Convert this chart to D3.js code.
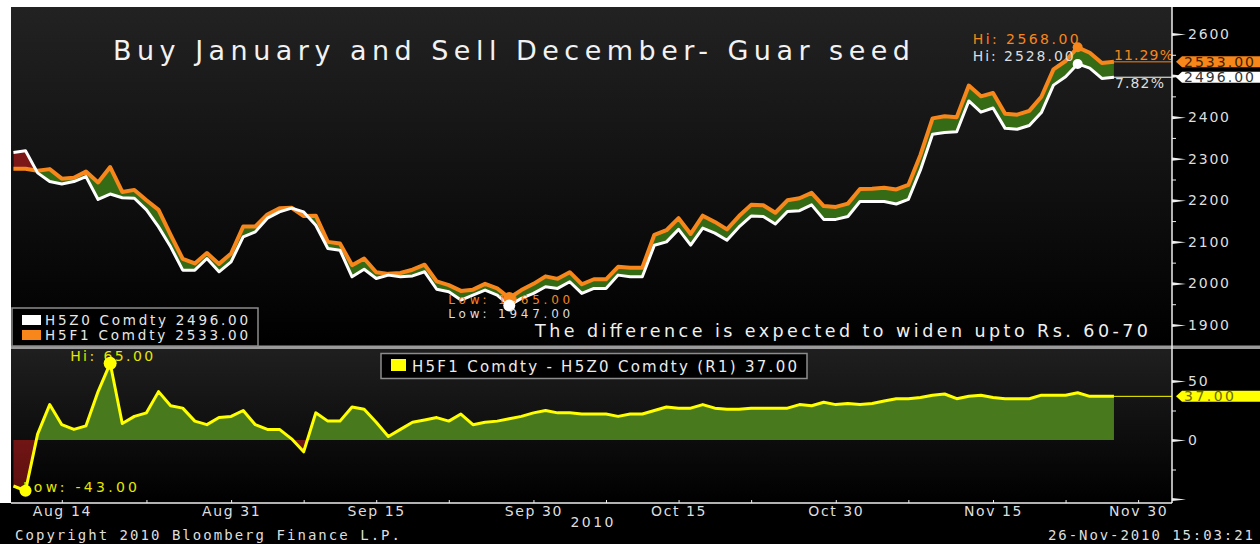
<!DOCTYPE html>
<html>
<head>
<meta charset="utf-8">
<script src="https://cdn.jsdelivr.net/npm/d3@7"></script>
<style>
    html, body { margin: 0; padding: 0; background: #000; }
    svg { display: block; }
    text { font-family: "DejaVu Sans", Verdana, sans-serif; }
</style>
</head>
<body>
<svg id="chart" width="1260" height="544"></svg>
<script>
// one close per trading day, 10 Aug 2010 -> 26 Nov 2010
const h5z0 = [
    2315, 2319, 2266, 2245, 2239, 2245, 2257, 2202, 2215, 2206,
    2205, 2177, 2136, 2088, 2032, 2032, 2060, 2028, 2052, 2112,
    2124, 2157, 2172, 2181, 2172, 2140, 2084, 2080, 2016, 2034,
    2012, 2020, 2016, 2018, 2028, 1986, 1980, 1960, 1972, 1984,
    1972, 1947, 1964, 1976, 1992, 1988, 2004, 1976, 1988, 1988,
    2020, 2016, 2016, 2092, 2100, 2130, 2092, 2133, 2121, 2104,
    2136, 2162, 2161, 2143, 2173, 2175, 2189, 2154, 2154, 2161,
    2197, 2197, 2197, 2191, 2202, 2273, 2359, 2363, 2365, 2439,
    2412, 2422, 2373, 2371, 2380, 2411, 2477, 2497, 2528, 2518,
    2493, 2496
];
const h5f1 = [
    2276, 2276, 2271, 2275, 2252, 2254, 2269, 2243, 2280, 2220,
    2225, 2200, 2177, 2117, 2059, 2048, 2073, 2047, 2072, 2137,
    2137, 2166, 2181, 2182, 2162, 2163, 2100, 2096, 2044, 2060,
    2027, 2023, 2025, 2033, 2045, 2005, 1996, 1982, 1985, 1999,
    1988, 1965, 1984, 1999, 2017, 2011, 2027, 1998, 2010, 2010,
    2040, 2038, 2038, 2117, 2128, 2157, 2119, 2163, 2148, 2130,
    2162, 2189, 2188, 2170, 2200, 2205, 2218, 2186, 2184, 2192,
    2227, 2228, 2230, 2226, 2237, 2309, 2397, 2402, 2400, 2476,
    2450, 2458, 2408, 2406, 2415, 2449, 2515, 2535, 2568, 2555,
    2530, 2533
];
// H5F1 - H5Z0 as plotted in the lower panel
const spread = [
    -39, -43, 5, 30, 13, 9, 12, 41, 65, 14,
    20, 23, 41, 29, 27, 16, 13, 19, 20, 25,
    13, 9, 9, 1, -10, 23, 16, 16, 28, 26,
    15, 3, 9, 15, 17, 19, 16, 22, 13, 15,
    16, 18, 20, 23, 25, 23, 23, 22, 22, 22,
    20, 22, 22, 25, 28, 27, 27, 30, 27, 26,
    26, 27, 27, 27, 27, 30, 29, 32, 30, 31,
    30, 31, 33, 35, 35, 36, 38, 39, 35, 37,
    38, 36, 35, 35, 35, 38, 38, 38, 40, 37,
    37, 37
];

const holidays = ["2010-09-11", "2010-10-02"];
const tickDates = ["2010-08-14", "2010-08-31", "2010-09-15", "2010-09-30", "2010-10-15", "2010-10-30", "2010-11-15", "2010-11-30"];
const tickLabels = ["Aug 14", "Aug 31", "Sep 15", "Sep 30", "Oct 15", "Oct 30", "Nov 15", "Nov 30"];
const priceTicks = [1900, 2000, 2100, 2200, 2300, 2400, 2500, 2600];
const priceMinor = [1950, 2050, 2150, 2250, 2350, 2450, 2550];
const spreadTicks = [-50, 0, 50];
const spreadMinor = [-25, 25];

const ORANGE = "#f7861b";
const GREEN_TOP = "#356b14";
const GREEN_BOT = "#487a1d";
const RED = "#7d1818";
const YELLOW = "#ffff00";
const LABEL = "#dedede";

// trading calendar: Mon-Sat while the data runs, weekdays after it
const fmtDay = d3.timeFormat("%Y-%m-%d");
const parseDay = d3.timeParse("%Y-%m-%d");
const lastDay = parseDay("2010-11-26");
const calendar = d3.timeDay.range(parseDay("2010-08-10"), parseDay("2010-12-04"))
    .filter(d => d.getDay() !== 0 && !holidays.includes(fmtDay(d)) && (d <= lastDay || d.getDay() !== 6));
const dayIndex = s => calendar.findIndex(d => fmtDay(d) === s);

const data = h5z0.map((v, i) => ({ i, date: calendar[i], z: v, f: h5f1[i], s: spread[i] }));
const last = data[data.length - 1];

const plotLeft = 11, plotRight = 1172;
const topP = { y0: 7, y1: 346 };
const botP = { y0: 349, y1: 503 };

const x = d3.scaleLinear().domain([-0.2, 95.8]).range([plotLeft, plotRight]);
const yTop = d3.scaleLinear().domain([1900, 2600]).range([325, 34]);
const yBot = d3.scaleLinear().domain([-50, 50]).range([499, 381]);

const svg = d3.select("#chart");
const defs = svg.append("defs");
// plain hyphen for negatives, like the terminal prints them
const fmt2 = d3.formatLocale({ decimal: ".", thousands: ",", grouping: [3], currency: ["", ""], minus: "-" }).format(".2f");

function vGrad(id, stops) {
    const g = defs.append("linearGradient").attr("id", id)
        .attr("x1", 0).attr("y1", 0).attr("x2", 0).attr("y2", 1);
    stops.forEach(([o, c]) => g.append("stop").attr("offset", o).attr("stop-color", c));
}
vGrad("bgTop", [[0, "#222"], [1, "#000"]]);
vGrad("bgBot", [[0, "#1f1f1f"], [1, "#000"]]);
vGrad("redBot", [[0, "#8e1c1c"], [1, "#5e1010"]]);

function label(g, txt, px, py, opts = {}) {
    const t = g.append("text")
        .attr("x", px).attr("y", py)
        .attr("fill", opts.fill || LABEL)
        .attr("font-size", opts.size || 14)
        .text(txt);
    if (opts.width) t.attr("textLength", opts.width).attr("lengthAdjust", "spacing");
    if (opts.anchor) t.attr("text-anchor", opts.anchor);
    if (opts.family) t.style("font-family", opts.family);
    return t;
}

// frame
svg.append("rect").attr("width", 1260).attr("height", 544).attr("fill", "#000");
svg.append("rect").attr("width", 1260).attr("height", topP.y0).attr("fill", "#fff");
svg.append("rect").attr("width", plotLeft).attr("height", botP.y1).attr("fill", "#fff");
svg.append("rect").attr("x", plotLeft).attr("y", topP.y0)
    .attr("width", plotRight - plotLeft).attr("height", topP.y1 - topP.y0).attr("fill", "url(#bgTop)");
svg.append("rect").attr("x", plotLeft).attr("y", botP.y0)
    .attr("width", plotRight - plotLeft).attr("height", botP.y1 - botP.y0).attr("fill", "url(#bgBot)");
svg.append("rect").attr("x", plotLeft).attr("y", topP.y1 - 0.5)
    .attr("width", 1260 - plotLeft).attr("height", 3.5).attr("fill", "#9a9a9a");

// ---------- upper panel: the two contracts ----------
const upper = svg.append("g");

defs.append("clipPath").attr("id", "belowF").append("path")
    .attr("d", d3.area().x(d => x(d.i)).y0(topP.y1).y1(d => yTop(d.f))(data));
defs.append("clipPath").attr("id", "aboveF").append("path")
    .attr("d", d3.area().x(d => x(d.i)).y0(topP.y0).y1(d => yTop(d.f))(data));

const band = d3.area().x(d => x(d.i)).y0(d => yTop(d.z)).y1(d => yTop(d.f));
upper.append("path").datum(data).attr("d", band).attr("fill", GREEN_TOP).attr("clip-path", "url(#belowF)");
upper.append("path").datum(data).attr("d", band).attr("fill", RED).attr("clip-path", "url(#aboveF)");

const lineF = d3.line().x(d => x(d.i)).y(d => yTop(d.f));
const lineZ = d3.line().x(d => x(d.i)).y(d => yTop(d.z));

// last-price guides to the axis
upper.append("line").attr("x1", x(last.i)).attr("x2", plotRight)
    .attr("y1", yTop(last.f)).attr("y2", yTop(last.f)).attr("stroke", ORANGE).attr("stroke-width", 1);
upper.append("line").attr("x1", x(last.i)).attr("x2", plotRight)
    .attr("y1", yTop(last.z)).attr("y2", yTop(last.z)).attr("stroke", "#fff").attr("stroke-width", 1);

upper.append("path").datum(data).attr("d", lineF)
    .attr("fill", "none").attr("stroke", ORANGE).attr("stroke-width", 4).attr("stroke-linejoin", "round");
upper.append("path").datum(data).attr("d", lineZ)
    .attr("fill", "none").attr("stroke", "#fff").attr("stroke-width", 3).attr("stroke-linejoin", "round");

label(upper, "Buy January and Sell December- Guar seed", 113, 60, { size: 27, fill: "#f2f2f2", width: 797 });
label(upper, "The difference is expected to widen upto Rs. 60-70", 535, 337, { size: 17.5, fill: "#f0f0f0", width: 613 });

// hi / low markers
const hiF = data[d3.maxIndex(data, d => d.f)], hiZ = data[d3.maxIndex(data, d => d.z)];
const loF = data[d3.minIndex(data, d => d.f)], loZ = data[d3.minIndex(data, d => d.z)];

label(upper, `Hi: ${fmt2(hiF.f)}`, x(hiF.i) - 105, yTop(hiF.f) - 3, { fill: ORANGE, width: 106 });
label(upper, `Hi: ${fmt2(hiZ.z)}`, x(hiZ.i) - 105, yTop(hiZ.z) - 3, { fill: LABEL, width: 101 });
upper.append("circle").attr("cx", x(hiF.i)).attr("cy", yTop(hiF.f)).attr("r", 5).attr("fill", ORANGE);
upper.append("circle").attr("cx", x(hiZ.i)).attr("cy", yTop(hiZ.z)).attr("r", 5).attr("fill", "#fff");

label(upper, `Low: ${fmt2(loF.f)}`, x(loF.i) - 61, yTop(loF.f) + 6, { size: 12, fill: ORANGE, width: 122 });
upper.append("circle").attr("cx", x(loF.i)).attr("cy", yTop(loF.f)).attr("r", 6).attr("fill", ORANGE);
upper.append("circle").attr("cx", x(loZ.i)).attr("cy", yTop(loZ.z)).attr("r", 6).attr("fill", "#fff");
label(upper, `Low: ${fmt2(loZ.z)}`, x(loZ.i) - 61, yTop(loZ.z) + 12.6, { size: 12, fill: LABEL, width: 122 });

// change since first close
const pct = (a, b) => fmt2((b / a - 1) * 100) + "%";
label(upper, pct(data[0].f, last.f), x(last.i), yTop(last.f) - 2, { fill: ORANGE, width: 59 });
label(upper, pct(data[0].z, last.z), x(last.i) + 1, yTop(last.z) + 11, { fill: LABEL, width: 49 });

// legend
const leg = upper.append("g");
leg.append("rect").attr("x", 12).attr("y", 308).attr("width", 246).attr("height", 38)
    .attr("fill", "#000").attr("stroke", "#8c8c8c").attr("stroke-width", 1.5);
[["H5Z0 Comdty", last.z, "#fff"], ["H5F1 Comdty", last.f, ORANGE]].forEach(([name, v, c], k) => {
    leg.append("rect").attr("x", 22).attr("y", 315 + k * 15).attr("width", 19).attr("height", 10).attr("fill", c);
    label(leg, `${name} ${fmt2(v)}`, 45, 325 + k * 14.5, { size: 13.5, fill: "#e6e6e6", width: 203 });
});

// ---------- lower panel: the spread ----------
const lower = svg.append("g");

defs.append("clipPath").attr("id", "posClip").append("rect")
    .attr("x", plotLeft).attr("y", botP.y0).attr("width", plotRight - plotLeft).attr("height", yBot(0) - botP.y0);
defs.append("clipPath").attr("id", "negClip").append("rect")
    .attr("x", plotLeft).attr("y", yBot(0)).attr("width", plotRight - plotLeft).attr("height", botP.y1 - yBot(0));

const spreadArea = d3.area().x(d => x(d.i)).y0(yBot(0)).y1(d => yBot(d.s));
lower.append("path").datum(data).attr("d", spreadArea).attr("fill", GREEN_BOT).attr("clip-path", "url(#posClip)");
lower.append("path").datum(data).attr("d", spreadArea).attr("fill", "url(#redBot)").attr("clip-path", "url(#negClip)");

lower.append("line").attr("x1", x(last.i)).attr("x2", plotRight)
    .attr("y1", yBot(last.s)).attr("y2", yBot(last.s)).attr("stroke", YELLOW).attr("stroke-width", 1);
lower.append("path").datum(data)
    .attr("d", d3.line().x(d => x(d.i)).y(d => yBot(d.s)))
    .attr("fill", "none").attr("stroke", YELLOW).attr("stroke-width", 3).attr("stroke-linejoin", "round");

const hiS = data[d3.maxIndex(data, d => d.s)], loS = data[d3.minIndex(data, d => d.s)];
label(lower, `Hi: ${fmt2(hiS.s)}`, x(hiS.i) - 40, yBot(hiS.s) - 2, { fill: "#e6e600", width: 83 });
lower.append("circle").attr("cx", x(hiS.i)).attr("cy", yBot(hiS.s)).attr("r", 6.5).attr("fill", YELLOW);
label(lower, `Low: ${fmt2(loS.s)}`, x(loS.i) - 2.5, yBot(loS.s) + 1, { fill: "#e6e600", width: 114 });
lower.append("circle").attr("cx", x(loS.i)).attr("cy", yBot(loS.s)).attr("r", 6).attr("fill", YELLOW);

const leg2 = lower.append("g");
leg2.append("rect").attr("x", 381).attr("y", 353.5).attr("width", 426).attr("height", 25)
    .attr("fill", "#000").attr("stroke", "#8c8c8c").attr("stroke-width", 1.5);
leg2.append("rect").attr("x", 391).attr("y", 359).attr("width", 15).attr("height", 12).attr("fill", YELLOW);
label(leg2, `H5F1 Comdty - H5Z0 Comdty (R1) ${fmt2(last.s)}`, 412, 372, { size: 15, fill: "#ececec", width: 385 });

// ---------- axes ----------
svg.append("line").attr("x1", plotRight).attr("x2", plotRight).attr("y1", topP.y0).attr("y2", botP.y1)
    .attr("stroke", "#eee").attr("stroke-width", 1.5);
svg.append("line").attr("x1", plotLeft).attr("x2", plotRight).attr("y1", botP.y1).attr("y2", botP.y1)
    .attr("stroke", "#eee").attr("stroke-width", 1.5);

function styleRight(g) {
    g.select(".domain").remove();
    g.selectAll(".tick line").remove();
    g.selectAll(".tick").append("path").attr("d", "M0,-1.6L14,0L0,1.6Z").attr("fill", "#eee");
    g.selectAll("text").attr("fill", LABEL).attr("font-size", 14)
        .style("letter-spacing", "1.8px").style("font-family", "'DejaVu Sans', Verdana, sans-serif");
}
function styleMinor(g) {
    g.select(".domain").remove();
    g.selectAll(".tick line").attr("stroke", "#eee").attr("stroke-width", 1);
}

svg.append("g").attr("transform", `translate(${plotRight},0)`)
    .call(d3.axisRight(yTop).tickValues(priceTicks).tickSize(14).tickPadding(2)
        .tickFormat(d => d === 2500 ? "" : d))
    .call(styleRight);
svg.append("g").attr("transform", `translate(${plotRight},0)`)
    .call(d3.axisRight(yTop).tickValues(priceMinor).tickSize(4).tickFormat(""))
    .call(styleMinor);
svg.append("g").attr("transform", `translate(${plotRight},0)`)
    .call(d3.axisRight(yBot).tickValues(spreadTicks).tickSize(14).tickPadding(2)
        .tickFormat(d => d < 0 ? "" : d))
    .call(styleRight);
svg.append("g").attr("transform", `translate(${plotRight},0)`)
    .call(d3.axisRight(yBot).tickValues(spreadMinor).tickSize(4).tickFormat(""))
    .call(styleMinor);

const tickIdx = tickDates.map(dayIndex);
const midIdx = d3.pairs(tickIdx).map(([a, b]) => Math.floor((a + b) / 2));

svg.append("g").attr("transform", `translate(0,${botP.y1})`)
    .call(d3.axisBottom(x).tickValues(tickIdx).tickFormat((d, i) => tickLabels[i]).tickSize(-3).tickPadding(3))
    .call(g => {
        g.select(".domain").remove();
        g.selectAll(".tick line").attr("stroke", "#eee");
        g.selectAll("text").attr("fill", LABEL).attr("font-size", 14)
            .style("letter-spacing", "1.6px").style("font-family", "'DejaVu Sans', Verdana, sans-serif");
    });
svg.append("g").attr("transform", `translate(0,${botP.y1})`)
    .call(d3.axisBottom(x).tickValues(midIdx).tickFormat("").tickSize(-3))
    .call(styleMinor);

label(svg, "2010", 592, 527, { anchor: "middle", width: 43 });

// last-value tags on the axis
function tag(yv, txt, bg, fg) {
    const g = svg.append("g").attr("transform", `translate(${plotRight + 4},${yv})`);
    g.append("path").attr("d", "M0,0L6,-5.5L90,-5.5L90,5.5L6,5.5Z").attr("fill", bg);
    label(g, txt, 8, 5, { size: 14, fill: fg, width: txt.length * 10 });
}
tag(yTop(last.f), fmt2(last.f), ORANGE, "#3b2200");
tag(yTop(last.z), fmt2(last.z), "#fff", "#333");
tag(yBot(last.s), fmt2(last.s), YELLOW, "#6b6b00");

// footer
label(svg, "Copyright 2010 Bloomberg Finance L.P.", 15, 540, { size: 14, family: "'DejaVu Sans Mono', monospace", width: 385 });
label(svg, "26-Nov-2010 15:03:21", 1048, 540, { size: 14, family: "'DejaVu Sans Mono', monospace", width: 205 });
</script>
</body>
</html>
